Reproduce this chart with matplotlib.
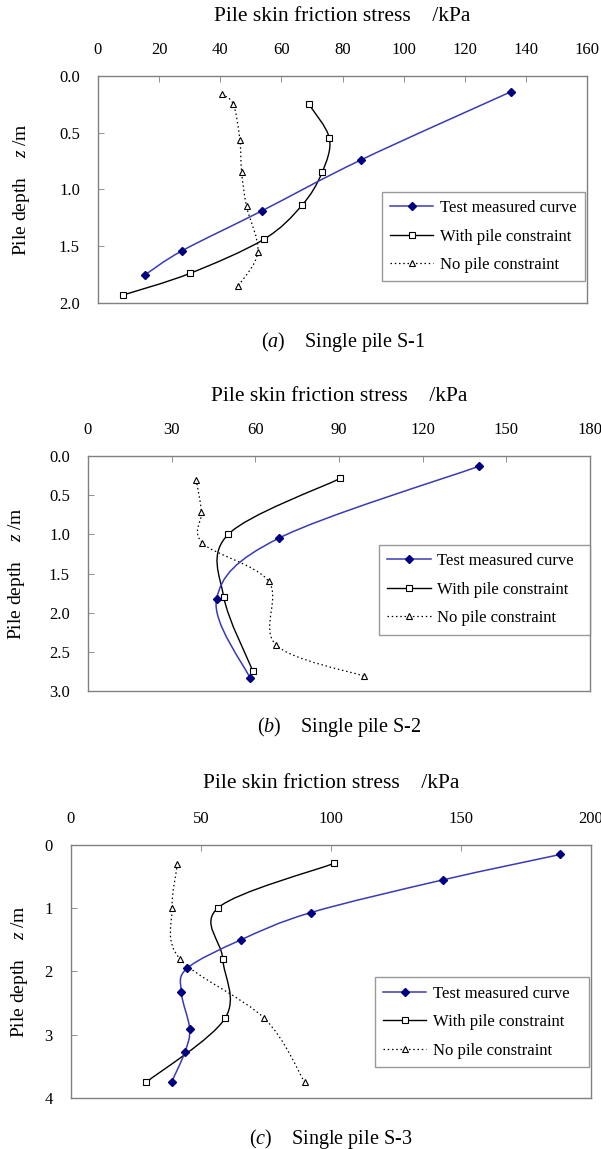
import matplotlib
matplotlib.use("Agg")
import matplotlib.pyplot as plt
import numpy as np
from matplotlib.path import Path
from matplotlib.patches import PathPatch
from matplotlib.lines import Line2D

plt.rcParams['font.family'] = ['Liberation Serif', 'DejaVu Serif']
plt.rcParams['mathtext.fontset'] = 'custom'
plt.rcParams['mathtext.it'] = 'Liberation Serif:italic'
plt.rcParams['mathtext.rm'] = 'Liberation Serif'

# ---- data (kPa, depth m) ----
# (a) single pile S-1
a_test_x = [135, 86, 53.5, 27.5, 15.5]
a_test_z = [0.14, 0.74, 1.19, 1.54, 1.75]
a_with_x = [69, 75.7, 73.3, 66.7, 54.2, 30, 8.2]
a_with_z = [0.25, 0.55, 0.85, 1.14, 1.44, 1.74, 1.93]
a_no_x = [40.5, 44.3, 46.4, 47.0, 48.6, 52.3, 45.9]
a_no_z = [0.16, 0.25, 0.56, 0.85, 1.15, 1.55, 1.85]

# (b) single pile S-2
b_test_x = [140.3, 68.4, 46.1, 58.2]
b_test_z = [0.13, 1.05, 1.83, 2.84]
b_with_x = [90.5, 50.3, 48.7, 59.2]
b_with_z = [0.285, 1.0, 1.80, 2.75]
b_no_x = [38.8, 40.7, 41.0, 64.8, 67.4, 99.0]
b_no_z = [0.30, 0.71, 1.11, 1.60, 2.41, 2.81]

# (c) single pile S-3
c_test_x = [188.3, 143.3, 92.2, 65.4, 44.7, 42.5, 45.7, 43.8, 38.8]
c_test_z = [0.15, 0.55, 1.07, 1.50, 1.95, 2.33, 2.91, 3.28, 3.74]
c_with_x = [101.3, 56.7, 58.4, 59.3, 29.0]
c_with_z = [0.29, 0.99, 1.80, 2.74, 3.75]
c_no_x = [41.0, 38.9, 41.9, 74.4, 89.9]
c_no_z = [0.30, 1.00, 1.80, 2.74, 3.75]

labels = ['Test measured curve', 'With pile constraint', 'No pile constraint']
captions = ['a', 'b', 'c']
names = ['Single pile S-1', 'Single pile S-2', 'Single pile S-3']
xmax = [160, 180, 200]
xstep = [20, 30, 50]
zmax = [2, 3, 4]
zstep = [0.5, 0.5, 1]

blue_line = '#3a3ab8'
navy = '#000080'
grey = '#808080'


def smooth_path(x, z):
    # excel-like smoothed line through the points (bezier)
    p = np.column_stack([x, z]).astype(float)
    n = len(p)
    verts = [p[0]]
    codes = [Path.MOVETO]
    for i in range(n - 1):
        p0 = p[i - 1] if i > 0 else p[i]
        p3 = p[i + 2] if i + 2 < n else p[i + 1]
        c1 = p[i] + (p[i + 1] - p0) / 6.0
        c2 = p[i + 1] - (p3 - p[i]) / 6.0
        verts += [c1, c2, p[i + 1]]
        codes += [Path.CURVE4] * 3
    return Path(verts, codes)


fig = plt.figure(figsize=(6.01, 11.49), dpi=100)

# axes boxes in figure fraction [left, bottom, width, height]
boxes = [[0.163, 0.7363, 0.814, 0.1976],
         [0.1464, 0.3986, 0.835, 0.2045],
         [0.118, 0.0444, 0.865, 0.2202]]
title_y = [0.986, 0.6545, 0.3185]
cap_y = [0.7023, 0.3673, 0.0085]
ylab_x = [0.035, 0.028, 0.032]
leg_box = [(0.58, 0.095, 0.415, 0.375),
           (0.58, 0.24, 0.42, 0.37),
           (0.584, 0.122, 0.413, 0.36)]

series = [
    (a_test_x, a_test_z, a_with_x, a_with_z, a_no_x, a_no_z),
    (b_test_x, b_test_z, b_with_x, b_with_z, b_no_x, b_no_z),
    (c_test_x, c_test_z, c_with_x, c_with_z, c_no_x, c_no_z),
]

for k in range(3):
    ax = fig.add_axes(boxes[k])
    tx, tz, wx, wz, nx, nz = series[k]

    ax.add_patch(PathPatch(smooth_path(nx, nz), fill=False, edgecolor='black',
                           lw=0.9, linestyle=(0, (1.2, 2.2))))
    ax.add_patch(PathPatch(smooth_path(wx, wz), fill=False, edgecolor='black', lw=1.0))
    ax.add_patch(PathPatch(smooth_path(tx, tz), fill=False, edgecolor=blue_line, lw=1.1))
    ax.plot(nx, nz, linestyle='none', marker='^', ms=5, mfc='white', mec='black', mew=0.8)
    ax.plot(wx, wz, linestyle='none', marker='s', ms=4.8, mfc='white', mec='black', mew=0.8)
    ax.plot(tx, tz, linestyle='none', marker='D', ms=4.0, mfc=navy, mec=navy)

    ax.set_xlim(0, xmax[k])
    ax.set_ylim(zmax[k], 0)
    ax.set_xticks(np.arange(0, xmax[k] + 1, xstep[k]))
    ax.set_yticks(np.arange(0, zmax[k] + 0.01, zstep[k]))
    if zstep[k] < 1:
        ax.set_yticklabels(['%.1f' % v for v in np.arange(0, zmax[k] + 0.01, zstep[k])])
    ax.xaxis.tick_top()
    ax.tick_params(axis='both', direction='in', length=4, width=0.6, color=grey,
                   labelsize=12, pad=13)
    for s in ax.spines.values():
        s.set_color(grey)
        s.set_linewidth(1.0)

    h = [Line2D([], [], color=blue_line, lw=1.1, marker='D', ms=4.0, mfc=navy, mec=navy),
         Line2D([], [], color='black', lw=1.0, marker='s', ms=4.8, mfc='white', mec='black', mew=0.8),
         Line2D([], [], color='black', lw=0.9, linestyle=(0, (1.2, 2.2)), marker='^', ms=5,
                mfc='white', mec='black', mew=0.8)]
    leg = ax.legend(h, labels, loc='lower left', bbox_to_anchor=leg_box[k], mode='expand',
                    fancybox=False, edgecolor=grey, fontsize=12, handlelength=2.6,
                    labelspacing=0.75, borderpad=0.5, handletextpad=0.4, borderaxespad=0)
    leg.get_frame().set_linewidth(1.0)

    cx = boxes[k][0] + boxes[k][2] / 2
    fig.text(cx, title_y[k], 'Pile skin friction stress    /kPa', ha='center', va='center',
             fontsize=15.5)
    fig.text(cx, cap_y[k], r'($\it{%s}$)    %s' % (captions[k], names[k]), ha='center',
             va='center', fontsize=14.5)
    fig.text(ylab_x[k], boxes[k][1] + boxes[k][3] / 2, r'Pile depth    $\it{z}$ /m',
             rotation=90, ha='center', va='center', fontsize=14)

fig.savefig('out.png', dpi=100)
